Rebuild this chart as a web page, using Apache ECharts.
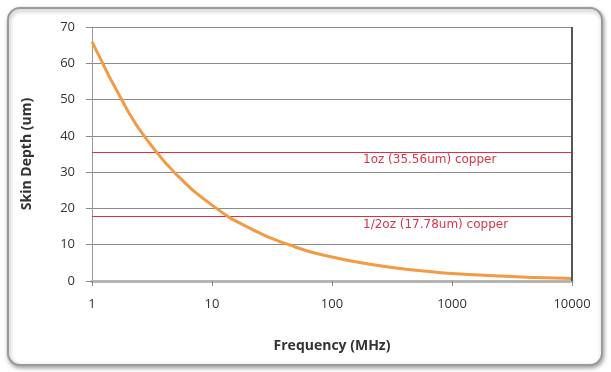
<!DOCTYPE html>
<html>
<head>
<meta charset="utf-8">
<script src="https://cdn.jsdelivr.net/npm/echarts@6/dist/echarts.min.js"></script>
<style>
  html, body { margin: 0; padding: 0; background: #fff; }
  #chart { width: 611px; height: 372px; }
</style>
</head>
<body>
<div id="chart"></div>
<script>
// skin depth of copper
const freqMHz = [1, 2, 3, 5, 10, 20, 50, 100, 200, 500, 1000, 2000, 5000, 10000];
const depthUm = [66, 46.7, 38.1, 29.5, 20.9, 14.8, 9.3, 6.6, 4.7, 2.95, 2.1, 1.5, 0.95, 0.7];
const copperLevels = [35.56, 17.78];
const copperLabels = ['1oz (35.56um) copper', '1/2oz (17.78um) copper'];
const yTicks = [0, 10, 20, 30, 40, 50, 60, 70];

const font = '"Open Sans", "DejaVu Sans", sans-serif';
const chart = echarts.init(document.getElementById('chart'));

chart.setOption({
  backgroundColor: '#fff',
  animation: false,
  graphic: [{
    type: 'rect',
    shape: { x: 8, y: 8, width: 594, height: 357, r: 12 },
    style: { fill: '#fff', stroke: '#9a9a9a', lineWidth: 2, shadowBlur: 4, shadowOffsetX: 1, shadowOffsetY: 2, shadowColor: 'rgba(0,0,0,0.35)' },
    z: -10
  }, {
    // dark right edge of plot area
    type: 'line',
    shape: { x1: 572, y1: 27, x2: 572, y2: 281 },
    style: { stroke: '#555', lineWidth: 2 },
    z: 10
  }],
  grid: { left: 92, right: 39, top: 27, bottom: 91 },
  xAxis: {
    type: 'log',
    logBase: 10,
    min: 1,
    max: 10000,
    name: 'Frequency (MHz)',
    nameLocation: 'middle',
    nameGap: 58,
    nameTextStyle: { fontFamily: font, fontSize: 14, fontWeight: 'bold', color: '#333' },
    axisLine: { lineStyle: { color: '#b5b5b5', width: 3 } },
    axisTick: { show: true, length: 5, lineStyle: { color: '#888', width: 1 } },
    axisLabel: { fontFamily: font, fontSize: 13, color: '#333', margin: 17, formatter: v => String(v) },
    splitLine: { show: false },
    minorTick: { show: false }
  },
  yAxis: {
    type: 'value',
    min: yTicks[0],
    max: yTicks[yTicks.length - 1],
    interval: 10,
    name: 'Skin Depth (um)',
    nameLocation: 'middle',
    nameGap: 58,
    nameTextStyle: { fontFamily: font, fontSize: 14, fontWeight: 'bold', color: '#333' },
    axisLine: { show: true, lineStyle: { color: '#999', width: 1 } },
    axisTick: { show: true, length: 6, lineStyle: { color: '#888' } },
    axisLabel: { fontFamily: font, fontSize: 13, color: '#333', margin: 17 },
    splitLine: { lineStyle: { color: '#8c8c8c', width: 1 } }
  },
  series: [{
    type: 'line',
    data: freqMHz.map((f, i) => [f, depthUm[i]]),
    smooth: true,
    symbol: 'none',
    lineStyle: { color: '#f39a45', width: 3 },
    z: 5,
    markLine: {
      silent: true,
      symbol: 'none',
      lineStyle: { color: '#e0303f', width: 1, type: 'solid' },
      label: {
        position: 'insideStartBottom',
        distance: [271, 2],
        fontFamily: '"DejaVu Sans", sans-serif',
        fontSize: 12,
        color: '#d8354a'
      },
      data: copperLevels.map((v, i) => ({ yAxis: v, label: { formatter: copperLabels[i] } }))
    }
  }]
});
</script>
</body>
</html>
